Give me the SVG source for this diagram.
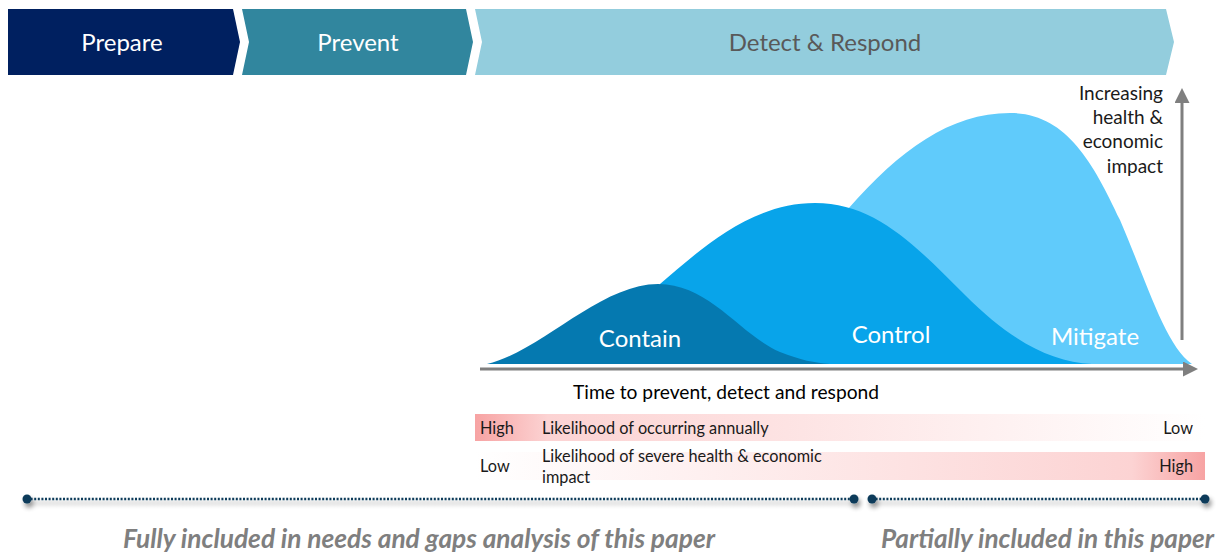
<svg xmlns="http://www.w3.org/2000/svg" width="1226" height="553" viewBox="0 0 1226 553">
  <defs>
    <style>
      .lbl { font-family: Lato, "Open Sans", sans-serif; }
      .phase { font-size: 24px; fill: #ffffff; text-anchor: middle; }
      .curve-lbl { font-size: 24px; fill: #ffffff; text-anchor: middle; }
      .small { font-size: 16.3px; fill: #1a1a1a; }
      .axis { stroke: #7f7f7f; stroke-width: 3; fill: none; }
      .dots { stroke: #0d3b5a; stroke-width: 2.5; stroke-dasharray: 2 1.6; fill: none; }
      .end { fill: #0d3b5a; }
      .scope { font-size: 26px; font-weight: bold; font-style: italic; fill: #7f7f7f; }
    </style>
    <marker id="arrow" viewBox="0 0 10 10" refX="2" refY="5" markerWidth="5" markerHeight="5" orient="auto" markerUnits="strokeWidth">
      <path d="M0,0 L10,5 L0,10 Z" fill="#7f7f7f"/>
    </marker>
    <linearGradient id="fadeRight" x1="0" y1="0" x2="1" y2="0">
      <stop offset="0" stop-color="#f7a3a3"/>
      <stop offset="0.1" stop-color="#fcd3d3"/>
      <stop offset="1" stop-color="#ffffff"/>
    </linearGradient>
    <linearGradient id="fadeLeft" x1="0" y1="0" x2="1" y2="0">
      <stop offset="0" stop-color="#ffffff"/>
      <stop offset="0.9" stop-color="#fcd3d3"/>
      <stop offset="1" stop-color="#f7a3a3"/>
    </linearGradient>
    <filter id="shadow" x="-5%" y="-200%" width="110%" height="500%">
      <feGaussianBlur in="SourceAlpha" stdDeviation="2.5"/>
      <feOffset dx="2" dy="4" result="b"/>
      <feComponentTransfer><feFuncA type="linear" slope="0.45"/></feComponentTransfer>
      <feMerge><feMergeNode/><feMergeNode in="SourceGraphic"/></feMerge>
    </filter>
  </defs>

  <rect width="1226" height="553" fill="#ffffff"/>

  <!-- phase chevrons -->
  <g id="prepare">
    <path d="M8,9 L233,9 L240,42 L233,75 L8,75 Z" fill="#002060"/>
    <text class="lbl phase" x="122" y="51">Prepare</text>
  </g>
  <g id="prevent">
    <path d="M242,9 L466,9 L473,42 L466,75 L242,75 L249,42 Z" fill="#31869e"/>
    <text class="lbl phase" x="358" y="51">Prevent</text>
  </g>
  <g id="detect-respond">
    <path d="M475,9 L1166,9 L1174,42 L1166,75 L475,75 L482,42 Z" fill="#93cddd"/>
    <text class="lbl phase" x="825" y="51" style="fill:#595959">Detect &amp; Respond</text>
  </g>

  <!-- impact curves -->
  <g id="mitigate">
    <path d="M848,209 C 900,150 950,113 1010,113 C 1065,113 1092,160 1120,220 C 1148,285 1165,345 1192,364 L 848,364 Z" fill="#60cbfb"/>
    <text class="lbl curve-lbl" x="1095" y="345">Mitigate</text>
  </g>
  <g id="control">
    <path d="M660,284 C 700,250 750,203 815,203 C 875,203 915,245 965,295 C 1010,340 1050,362 1092,364 L 660,364 Z" fill="#08a4ea"/>
    <text class="lbl curve-lbl" x="891" y="343">Control</text>
  </g>
  <g id="contain">
    <path d="M487,364 C 540,352 600,284 658,284 C 710,284 740,335 780,352 C 800,360 815,363 830,364 Z" fill="#0579b0"/>
    <text class="lbl curve-lbl" x="640" y="347">Contain</text>
  </g>

  <!-- axes -->
  <g id="connectors">
    <line class="axis" x1="480" y1="369" x2="1186" y2="369" marker-end="url(#arrow)"/>
    <line class="axis" x1="1182" y1="340" x2="1182" y2="100" marker-end="url(#arrow)"/>
  </g>

  <g id="axis-labels">
    <text class="lbl" x="1163" y="100" font-size="19" fill="#1a1a1a" text-anchor="end">Increasing</text>
    <text class="lbl" x="1163" y="124" font-size="19" fill="#1a1a1a" text-anchor="end">health &amp;</text>
    <text class="lbl" x="1163" y="148" font-size="19" fill="#1a1a1a" text-anchor="end">economic</text>
    <text class="lbl" x="1163" y="173" font-size="19" fill="#1a1a1a" text-anchor="end">impact</text>
    <text class="lbl" x="573" y="399" font-size="19" fill="#000000" textLength="306" lengthAdjust="spacingAndGlyphs">Time to prevent, detect and respond</text>
  </g>

  <!-- likelihood bands -->
  <g id="band-occurring">
    <rect x="475" y="414" width="730" height="27" fill="url(#fadeRight)"/>
    <text class="lbl small" x="480" y="434">High</text>
    <text class="lbl small" x="542" y="434">Likelihood of occurring annually</text>
    <text class="lbl small" x="1193" y="434" text-anchor="end">Low</text>
  </g>
  <g id="band-severity">
    <rect x="475" y="452" width="730" height="28" fill="url(#fadeLeft)"/>
    <text class="lbl small" x="480" y="472">Low</text>
    <text class="lbl small" x="542" y="462">Likelihood of severe health &amp; economic</text>
    <text class="lbl small" x="542" y="483">impact</text>
    <text class="lbl small" x="1193" y="472" text-anchor="end">High</text>
  </g>

  <!-- scope ranges -->
  <g id="scope-full" filter="url(#shadow)">
    <line class="dots" x1="27" y1="499" x2="854" y2="499"/>
    <circle class="end" cx="27" cy="499" r="4.5"/>
    <circle class="end" cx="854" cy="499" r="4.5"/>
  </g>
  <g id="scope-partial" filter="url(#shadow)">
    <line class="dots" x1="872" y1="499" x2="1205" y2="499"/>
    <circle class="end" cx="872" cy="499" r="4.5"/>
    <circle class="end" cx="1205" cy="499" r="4.5"/>
  </g>
  <text class="lbl scope" x="123" y="548" textLength="592" lengthAdjust="spacingAndGlyphs">Fully included in needs and gaps analysis of this paper</text>
  <text class="lbl scope" x="881" y="548" textLength="333" lengthAdjust="spacingAndGlyphs">Partially included in this paper</text>
</svg>
